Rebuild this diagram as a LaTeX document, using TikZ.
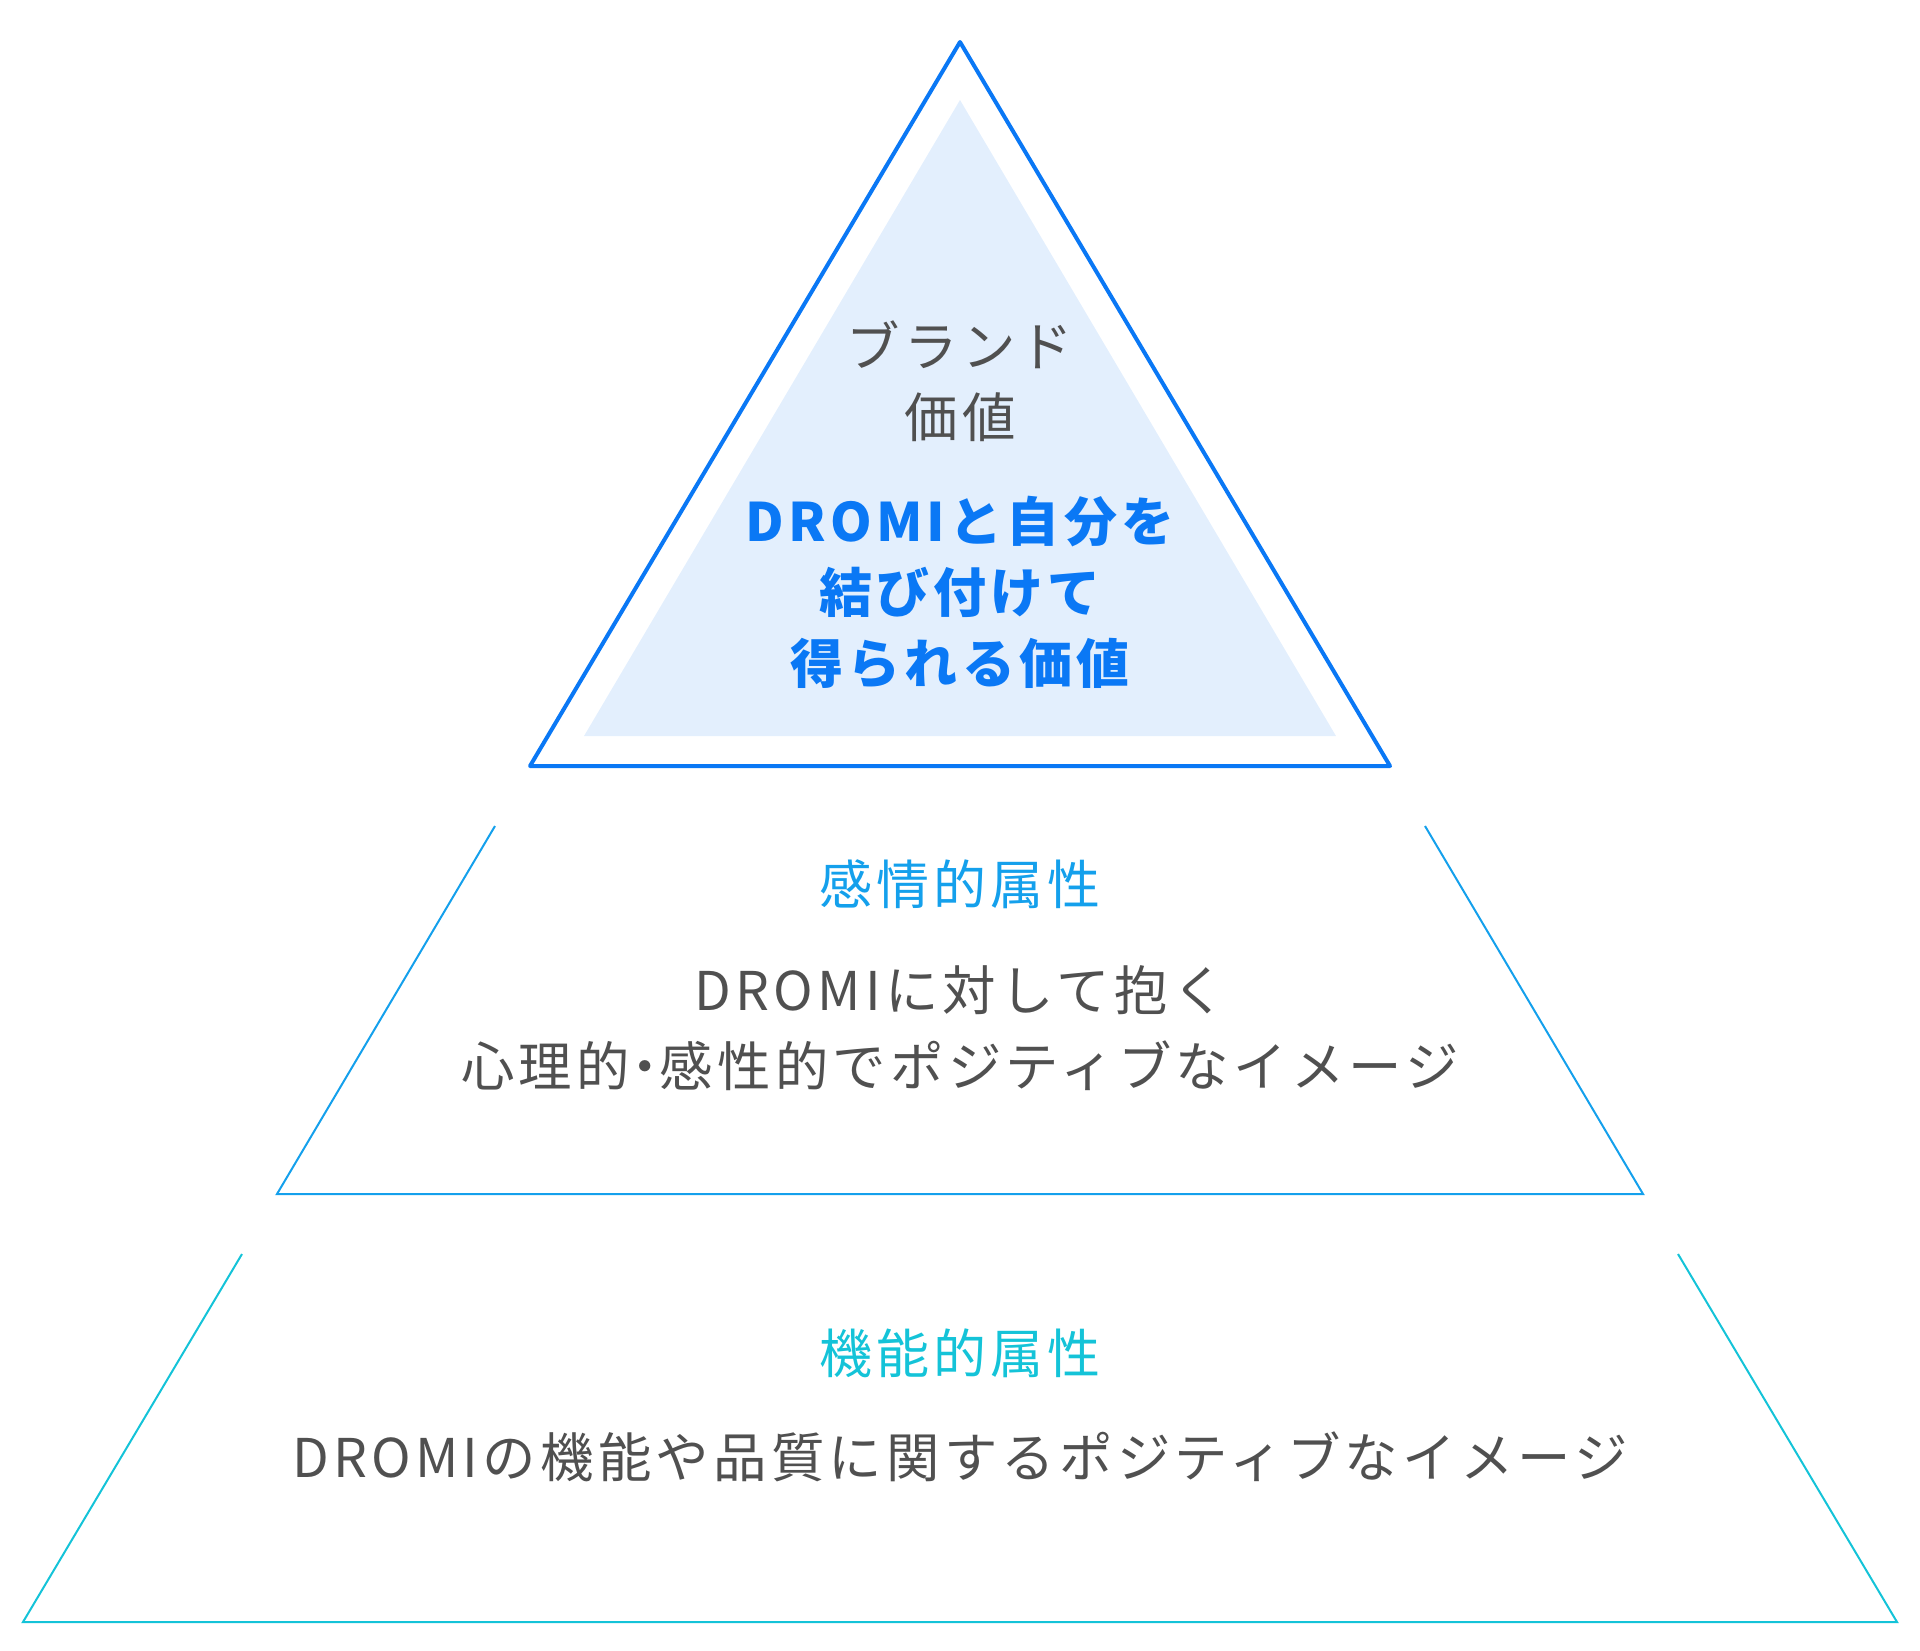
\documentclass[tikz,border=0pt]{standalone}
\usepackage{fontspec}
\setmainfont{Noto Sans CJK JP}[LetterSpace=8]
\usepackage{tikz}
\definecolor{topblue}{HTML}{0A78F5}
\definecolor{topfill}{HTML}{E3EFFD}
\definecolor{midblue}{HTML}{14A0EC}
\definecolor{lowcyan}{HTML}{14C3D8}
\definecolor{txtgray}{HTML}{505050}
\tikzset{
  tiertext/.style={align=center, text=txtgray, font=\fontsize{26.7pt}{35.5pt}\selectfont},
  tiertitle/.style={font=\fontsize{26.5pt}{35.5pt}\selectfont}
}

\begin{document}
\begin{tikzpicture}[x=0.5pt,y=-0.5pt]
\useasboundingbox (0,0) rectangle (1920,1650);
% top: brand value
\fill[topfill] (960,100) -- (1336,736) -- (584,736) -- cycle;
\draw[topblue,line width=2pt,line join=round] (960,42) -- (1390,766) -- (530,766) -- cycle;
\node[tiertext] (brand) at (960,381) {ブランド\\価値};
\node[tiertext,text=topblue,font=\fontsize{26.5pt}{35.5pt}\selectfont\bfseries] (brandval) at (960,592) {DROMIと自分を\\結び付けて\\得られる価値};
% middle: emotional
\draw[midblue,line width=1pt] (495,826) -- (277,1194) -- (1643,1194) -- (1425,826);
\node[tiertitle,text=midblue] (emo) at (960,884) {感情的属性};
\node[tiertext,font=\fontsize{26.7pt}{38pt}\selectfont] (emotext) at (960,1028) {DROMIに対して抱く\\心理的\kern-0.22em・\kern-0.22em感性的でポジティブなイメージ};
% bottom: functional
\draw[lowcyan,line width=1pt] (242,1254) -- (23,1622) -- (1897,1622) -- (1678,1254);
\node[tiertitle,text=lowcyan] (func) at (960,1353) {機能的属性};
\node[tiertext] (functext) at (960,1457) {DROMIの機能や品質に関するポジティブなイメージ};
\end{tikzpicture}
\end{document}
